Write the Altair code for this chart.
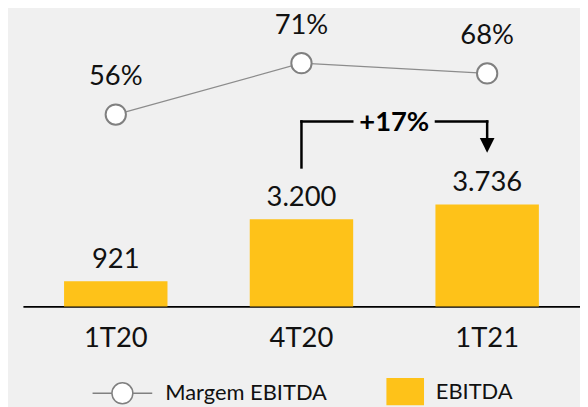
import altair as alt
import pandas as pd

# ---------------- data ----------------
categorias = ["1T20", "4T20", "1T21"]
ebitda = [921, 3200, 3736]
ebitda_rotulos = ["921", "3.200", "3.736"]
margem = [56, 71, 68]
margem_rotulos = ["56%", "71%", "68%"]
series = ["Margem EBITDA", "EBITDA"]

variacao_de = "4T20"
variacao_para = "1T21"
variacao_rotulo = "+17%"
nivel_colchete = 6780  # height of the bracket, in EBITDA units

# ---------------- style ----------------
AMARELO = "#FEC219"
FUNDO = "#F0F0F0"
CINZA = "#808080"
TXT = "#111111"
FONT = "Lato"
FS = 27.5

df = pd.DataFrame({
    "cat": categorias,
    "ebitda": ebitda,
    "ebitda_lbl": ebitda_rotulos,
    "margem": margem,
    "margem_lbl": margem_rotulos,
})

i_de = categorias.index(variacao_de)
i_para = categorias.index(variacao_para)
ann = pd.DataFrame({
    "de": [variacao_de],
    "para": [variacao_para],
    "v_de": [ebitda[i_de]],
    "v_para": [ebitda[i_para]],
    "nivel": [nivel_colchete],
    "rotulo": [variacao_rotulo],
})

leg_df = pd.DataFrame({"serie": series})

xscale = alt.Scale(domain=categorias, paddingInner=0.443, paddingOuter=0.2215)
y_e = alt.Scale(domain=[0, 10900], nice=False, zero=True)
y_m = alt.Scale(domain=[0, 86.8], nice=False, zero=True)

x_ax = alt.Axis(labelAngle=0, labelFont=FONT, labelFontSize=FS, labelColor=TXT,
                labelPadding=18, ticks=False, tickSize=0, domainColor="#000000",
                domainWidth=1.75, grid=False, title=None)


def X(field):
    return alt.X(field, scale=xscale, sort=categorias, title=None, axis=x_ax)


Y_E = alt.Y("ebitda:Q", scale=y_e, axis=None)
Y_M = alt.Y("margem:Q", scale=y_m, axis=None)

MARGEM_PATH = ("M-1,0H-0.35M0.35,0H1M0.35,0A0.35,0.35,0,1,1,-0.35,0"
               "A0.35,0.35,0,1,1,0.35,0Z")
RECT_PATH = "M-0.22,-0.46H1.04V0.46H-0.22Z"

legend = alt.Legend(
    title=None, orient="none", legendX=69, legendY=353.5, direction="horizontal",
    symbolSize=3600, symbolStrokeWidth=1.5, labelOffset=12, columnPadding=35,
    labelFont=FONT, labelFontSize=22, labelColor=TXT, labelLimit=400, padding=0,
    symbolOpacity=1,
)

base = alt.Chart(df)

bars = base.mark_bar(color=AMARELO).encode(x=X("cat:N"), y=Y_E)

bar_text = base.mark_text(dy=-13.5, baseline="alphabetic", font=FONT, fontSize=FS,
                          color=TXT).encode(x=X("cat:N"), y=Y_E, text="ebitda_lbl:N")

line = base.mark_line(color="#8c8c8c", strokeWidth=1.2).encode(x=X("cat:N"), y=Y_M)

points = base.mark_point(shape="circle", size=416, filled=True, fill="#ffffff",
                         stroke=CINZA, strokeWidth=2, opacity=1).encode(x=X("cat:N"), y=Y_M)

pct_text = base.mark_text(dy=-29.5, baseline="alphabetic", font=FONT, fontSize=FS,
                          color=TXT).encode(x=X("cat:N"), y=Y_M, text="margem_lbl:N")

a = alt.Chart(ann)
rule_kw = dict(color="#000000", strokeWidth=2.5, strokeCap="square")

v_left = a.mark_rule(yOffset=-52, **rule_kw).encode(
    x=X("de:N"), y=alt.Y("v_de:Q", scale=y_e, axis=None), y2="nivel:Q")
h_left = a.mark_rule(x2Offset=-135.6, **rule_kw).encode(
    x=X("de:N"), x2="para:N", y=alt.Y("nivel:Q", scale=y_e, axis=None))
h_right = a.mark_rule(xOffset=135.2, **rule_kw).encode(
    x=X("de:N"), x2="para:N", y=alt.Y("nivel:Q", scale=y_e, axis=None))
v_right = a.mark_rule(yOffset=-67, **rule_kw).encode(
    x=X("para:N"), y=alt.Y("v_para:Q", scale=y_e, axis=None), y2="nivel:Q")
arrow = a.mark_point(shape="M-1,-1L1,-1L0,1Z", size=219, filled=True, color="#000000",
                     opacity=1, yOffset=-59.5).encode(
    x=X("para:N"), y=alt.Y("v_para:Q", scale=y_e, axis=None))
ann_text = a.mark_text(dx=93.3, dy=2, baseline="middle", font=FONT, fontSize=FS,
                       fontWeight="bold", color="#000000").encode(
    x=X("de:N"), y=alt.Y("nivel:Q", scale=y_e, axis=None), text="rotulo:N")

# legend only: no marks drawn (data filtered out), entries come from the fixed domains
leg = alt.Chart(leg_df).transform_filter("false").mark_point(
    filled=True, opacity=1, strokeWidth=1.5
).encode(
    shape=alt.Shape("serie:N", scale=alt.Scale(domain=series, range=[MARGEM_PATH, RECT_PATH]),
                    legend=legend),
    fill=alt.Fill("serie:N", scale=alt.Scale(domain=series, range=["#ffffff", AMARELO]),
                  legend=legend),
    stroke=alt.Stroke("serie:N", scale=alt.Scale(domain=series, range=[CINZA, "transparent"]),
                      legend=legend),
)

chart = alt.layer(
    bars, bar_text, line, points, pct_text, v_left, h_left, h_right, v_right, arrow,
    ann_text, leg
).resolve_scale(y="independent").properties(
    width=560, height=299,
    autosize=alt.AutoSizeParams(type="none"),
    padding={"left": 15, "top": 0, "right": 0, "bottom": 100},
).configure(background=FUNDO).configure_view(stroke=None)

chart.save("out.html", embed_options={"renderer": "svg", "actions": False})
